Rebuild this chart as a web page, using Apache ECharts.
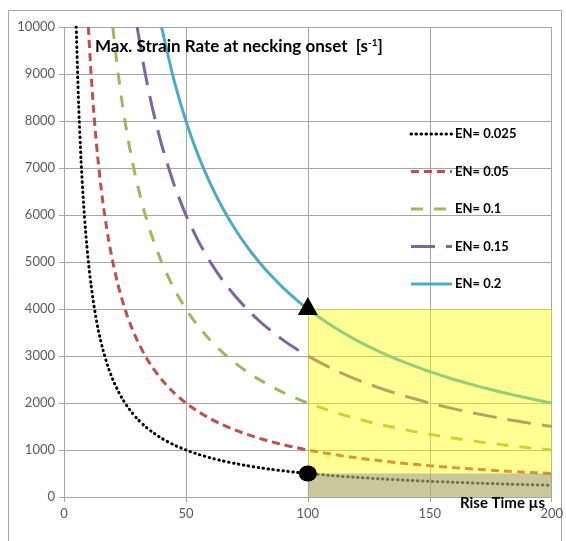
<!DOCTYPE html>
<html><head><meta charset="utf-8">
<script src="https://cdn.jsdelivr.net/npm/echarts@6/dist/echarts.min.js"></script>
<style>html,body{margin:0;padding:0;background:#fff}#c{width:566px;height:541px}</style>
</head><body><div id="c"></div>
<script>
const riseTime = [5,6,7,8,9,10,11,12,13,14,15,16,18,20,22,24,26,28,30,33,36,40,45,50,55,60,65,70,75,80,85,90,95,100,110,120,130,140,150,160,170,180,190,200];
const en025 = [10000,8333,7143,6250,5556,5000,4545,4167,3846,3571,3333,3125,2778,2500,2273,2083,1923,1786,1667,1515,1389,1250,1111,1000,909,833,769,714,667,625,588,556,526,500,455,417,385,357,333,313,294,278,263,250];
const en05 = [null,null,null,null,null,10000,9091,8333,7692,7143,6667,6250,5556,5000,4545,4167,3846,3571,3333,3030,2778,2500,2222,2000,1818,1667,1538,1429,1333,1250,1176,1111,1053,1000,909,833,769,714,667,625,588,556,526,500];
const en10 = [null,null,null,null,null,null,null,null,null,null,null,null,null,10000,9091,8333,7692,7143,6667,6061,5556,5000,4444,4000,3636,3333,3077,2857,2667,2500,2353,2222,2105,2000,1818,1667,1538,1429,1333,1250,1176,1111,1053,1000];
const en15 = [null,null,null,null,null,null,null,null,null,null,null,null,null,null,null,null,null,null,10000,9091,8333,7500,6667,6000,5455,5000,4615,4286,4000,3750,3529,3333,3158,3000,2727,2500,2308,2143,2000,1875,1765,1667,1579,1500];
const en20 = [null,null,null,null,null,null,null,null,null,null,null,null,null,null,null,null,null,null,null,null,null,10000,8889,8000,7273,6667,6154,5714,5333,5000,4706,4444,4211,4000,3636,3333,3077,2857,2667,2500,2353,2222,2105,2000];
const seriesNames = ['EN= 0.025','EN= 0.05','EN= 0.1','EN= 0.15','EN= 0.2'];
const xTicks = [0,200,50];
const yTicks = [0,10000,1000];
// highlighted regions: [x0, x1, y0, y1]
const yellowZone = [100,200,0,4000];
const grayZone = [100,200,0,500];
const triangleMark = [100,4000];
const circleMark = [100,500];

const colors = ['#000000','#C0504D','#9BBB59','#8064A2','#4BACC6'];
const dashes = [[0.5,4.5],[8,5],[12,11],[24,11],null];
const allVals = [en025,en05,en10,en15,en20];

const chart = echarts.init(document.getElementById('c'));
const lineSeries = allVals.map((vals,i)=>({
  name: seriesNames[i], type:'line', z:2,
  data: riseTime.map((t,j)=>[t, vals[j]]).filter(p=>p[1]!==null),
  showSymbol:false, symbol:'none', smooth:0.2, clip:true,
  lineStyle:{color:colors[i], width:3, type:dashes[i]||'solid', cap: i===0?'round':'butt'},
  itemStyle:{color:colors[i]}
}));
function rectSeries(zone, fill, z){
  return {type:'custom', z:z, silent:true,
    data:[zone],
    renderItem:function(params, api){
      const p0 = api.coord([api.value(0), api.value(3)]);
      const p1 = api.coord([api.value(1), api.value(2)]);
      return {type:'rect', shape:{x:p0[0], y:p0[1], width:p1[0]-p0[0], height:p1[1]-p0[1]}, style:{fill:fill}};
    }};
}
const font = 'Lato, "Open Sans", sans-serif';
// legend drawn as graphic elements
const legendGraphics = [];
seriesNames.forEach((n,i)=>{
  const y = 134 + i*37.5;
  legendGraphics.push({type:'line', z:10, silent:true,
    shape:{x1:411, y1:y, x2:452, y2:y},
    style:{stroke:colors[i], lineWidth:3, lineDash:dashes[i]||null, lineCap: i===0?'round':'butt'}});
  legendGraphics.push({type:'text', z:10, silent:true, x:455, y:y,
    style:{text:n, fontFamily:font, fontWeight:'bold', fontSize:13, fill:'#000', verticalAlign:'middle'}});
});
chart.setOption({
  animation:false,
  grid:{left:64, right:10, top:27, bottom:44},
  xAxis:{type:'value', min:xTicks[0], max:xTicks[1], interval:xTicks[2],
    axisLine:{show:true, lineStyle:{color:'#a6a6a6'}},
    axisTick:{show:true, length:5, lineStyle:{color:'#a6a6a6'}},
    axisLabel:{fontFamily:font, fontSize:13, color:'#595959', margin:10},
    splitLine:{show:true, lineStyle:{color:'#a6a6a6'}}},
  yAxis:{type:'value', min:yTicks[0], max:yTicks[1], interval:yTicks[2],
    axisLine:{show:true, lineStyle:{color:'#a6a6a6'}},
    axisTick:{show:true, length:5, lineStyle:{color:'#a6a6a6'}},
    axisLabel:{fontFamily:font, fontSize:13, color:'#595959', margin:9, formatter:v=>String(v)},
    splitLine:{show:true, lineStyle:{color:'#a6a6a6'}}},
  series: lineSeries.concat([
    rectSeries(yellowZone,'rgba(255,255,0,0.42)',3),
    rectSeries(grayZone,'rgba(125,125,165,0.42)',4),
    {type:'scatter', z:5, symbol:'triangle', symbolSize:[20,18], symbolOffset:[0,-3], data:[triangleMark], itemStyle:{color:'#000', opacity:1}},
    {type:'scatter', z:5, symbol:'circle', symbolSize:[18,16], data:[circleMark], itemStyle:{color:'#000', opacity:1}}
  ]),
  graphic:[
    {type:'rect', shape:{x:8.5, y:10.5, width:553, height:545}, style:{fill:'none', stroke:'#a6a6a6', lineWidth:1}, z:0, silent:true},
    {type:'text', left:95, top:38, z:10, style:{
      text:'{t|Max. Strain Rate at necking onset  [s}{s|-1}{t|]}',
      rich:{t:{fontFamily:font, fontWeight:'bold', fontSize:17, fill:'#000'}, s:{fontFamily:font, fontWeight:'bold', fontSize:10, fill:'#000', verticalAlign:'top', padding:[0,0,8,0]}}}},
    {type:'text', left:460, top:496, z:10, style:{text:'Rise Time µs', fontFamily:font, fontWeight:'bold', fontSize:15, fill:'#000'}}
  ].concat(legendGraphics)
});
</script></body></html>
